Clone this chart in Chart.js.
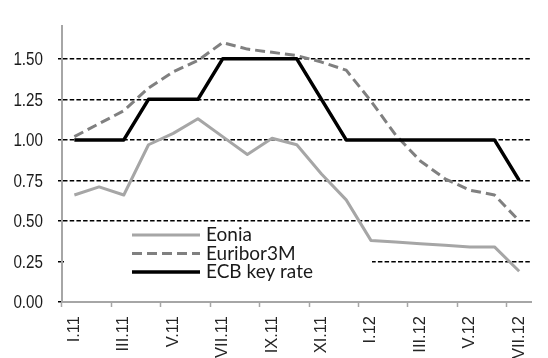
<!DOCTYPE html>
<html>
<head>
<meta charset="utf-8">
<script src="https://cdn.jsdelivr.net/npm/chart.js@4"></script>
<style>
  html, body { margin: 0; padding: 0; background: #fff; }
  #wrap { width: 548px; height: 358px; }
</style>
</head>
<body>
<div id="wrap"><canvas id="rateChart" width="548" height="358"></canvas></div>
<script>
const months = ['I.11', 'II.11', 'III.11', 'IV.11', 'V.11', 'VI.11', 'VII.11', 'VIII.11', 'IX.11', 'X.11',
    'XI.11', 'XII.11', 'I.12', 'II.12', 'III.12', 'IV.12', 'V.12', 'VI.12', 'VII.12'];
const eonia = [0.66, 0.71, 0.66, 0.97, 1.04, 1.13, 1.02, 0.91, 1.01, 0.97,
    0.79, 0.63, 0.38, 0.37, 0.36, 0.35, 0.34, 0.34, 0.19];
const euribor3m = [1.02, 1.10, 1.18, 1.32, 1.42, 1.49, 1.60, 1.56, 1.54, 1.52,
    1.48, 1.43, 1.24, 1.03, 0.87, 0.76, 0.69, 0.66, 0.50];
const ecbRate = [1.00, 1.00, 1.00, 1.25, 1.25, 1.25, 1.50, 1.50, 1.50, 1.50,
    1.25, 1.00, 1.00, 1.00, 1.00, 1.00, 1.00, 1.00, 0.75];
const yTicks = [0, 0.25, 0.5, 0.75, 1.0, 1.25, 1.5];

// legend sits inside the plot on a white box, like the Excel original
const legendBox = {
    id: 'legendBox',
    beforeDatasetsDraw(chart) {
        const ctx = chart.ctx;
        ctx.save();
        ctx.fillStyle = '#fff';
        ctx.fillRect(64, 226, 308, 60);
        chart.data.datasets.forEach((ds, i) => {
            const y = 235 + i * 18.5;
            ctx.beginPath();
            ctx.setLineDash(ds.borderDash || []);
            ctx.strokeStyle = ds.borderColor;
            ctx.lineWidth = ds.borderWidth;
            ctx.moveTo(132, y);
            ctx.lineTo(200, y);
            ctx.stroke();
            ctx.setLineDash([]);
            ctx.fillStyle = '#1a1a1a';
            ctx.font = '19px Lato';
            ctx.textBaseline = 'middle';
            ctx.fillText(ds.label, 206, y);
        });
        ctx.restore();
    }
};

// no narrow Arial here, so the y labels get squeezed by hand
const narrowYLabels = {
    id: 'narrowYLabels',
    afterDraw(chart) {
        const ctx = chart.ctx;
        const s = chart.scales.y;
        ctx.save();
        ctx.font = "19px 'Liberation Sans'";
        ctx.textAlign = 'right';
        ctx.textBaseline = 'middle';
        ctx.fillStyle = '#1a1a1a';
        s.ticks.forEach(t => {
            ctx.save();
            ctx.translate(s.right - 4 - 15, s.getPixelForValue(t.value) + 1);
            ctx.scale(0.8, 1);
            ctx.fillText(t.label, 0, 0);
            ctx.restore();
        });
        ctx.restore();
    }
};

new Chart(document.getElementById('rateChart'), {
    type: 'line',
    data: {
        labels: months,
        datasets: [{
            label: 'Eonia',
            data: eonia,
            borderColor: '#a6a6a6',
            borderWidth: 3,
            order: 3
        }, {
            label: 'Euribor3M',
            data: euribor3m,
            borderColor: '#808080',
            borderWidth: 3,
            borderDash: [10, 5],
            order: 2
        }, {
            label: 'ECB key rate',
            data: ecbRate,
            borderColor: '#000',
            borderWidth: 3.5,
            order: 1
        }]
    },
    options: {
        responsive: false,
        animation: false,
        layout: { padding: { top: 13, right: 0, left: 0, bottom: 0 } },
        elements: {
            point: { radius: 0 },
            line: { tension: 0, borderJoinStyle: 'round', borderCapStyle: 'butt' }
        },
        plugins: {
            legend: { display: false },
            tooltip: { enabled: false }
        },
        scales: {
            x: {
                offset: true,
                afterFit: scale => { scale.height = 56; },
                grid: {
                    offset: true,
                    drawOnChartArea: false,
                    tickLength: 5,
                    tickWidth: 1.5,
                    tickColor: ctx => ctx.index % 2 === 0 ? '#a6a6a6' : 'rgba(0,0,0,0)'
                },
                border: { color: '#a6a6a6', width: 2 },
                ticks: {
                    autoSkip: false,
                    maxRotation: 90,
                    minRotation: 90,
                    padding: 9,
                    color: '#262626',
                    font: { family: "'Liberation Sans'", size: 16.5 },
                    callback: function (val, i) { return i % 2 === 0 ? this.getLabelForValue(val) : ''; }
                }
            },
            y: {
                min: 0,
                max: 1.7,
                afterFit: scale => { scale.width = 62; },
                afterBuildTicks: scale => { scale.ticks = yTicks.map(v => ({ value: v })); },
                grid: {
                    color: ctx => ctx.tick && ctx.tick.value === 0 ? 'rgba(0,0,0,0)' : '#000',
                    lineWidth: 1.5,
                    tickLength: 4,
                    tickColor: '#000'
                },
                border: { color: '#a6a6a6', width: 2, dash: [4.5, 2.2] },
                ticks: {
                    padding: 15,
                    color: 'rgba(0,0,0,0)',
                    font: { family: "'Liberation Sans'", size: 19 },
                    callback: v => v.toFixed(2)
                }
            }
        }
    },
    plugins: [legendBox, narrowYLabels]
});
</script>
</body>
</html>
